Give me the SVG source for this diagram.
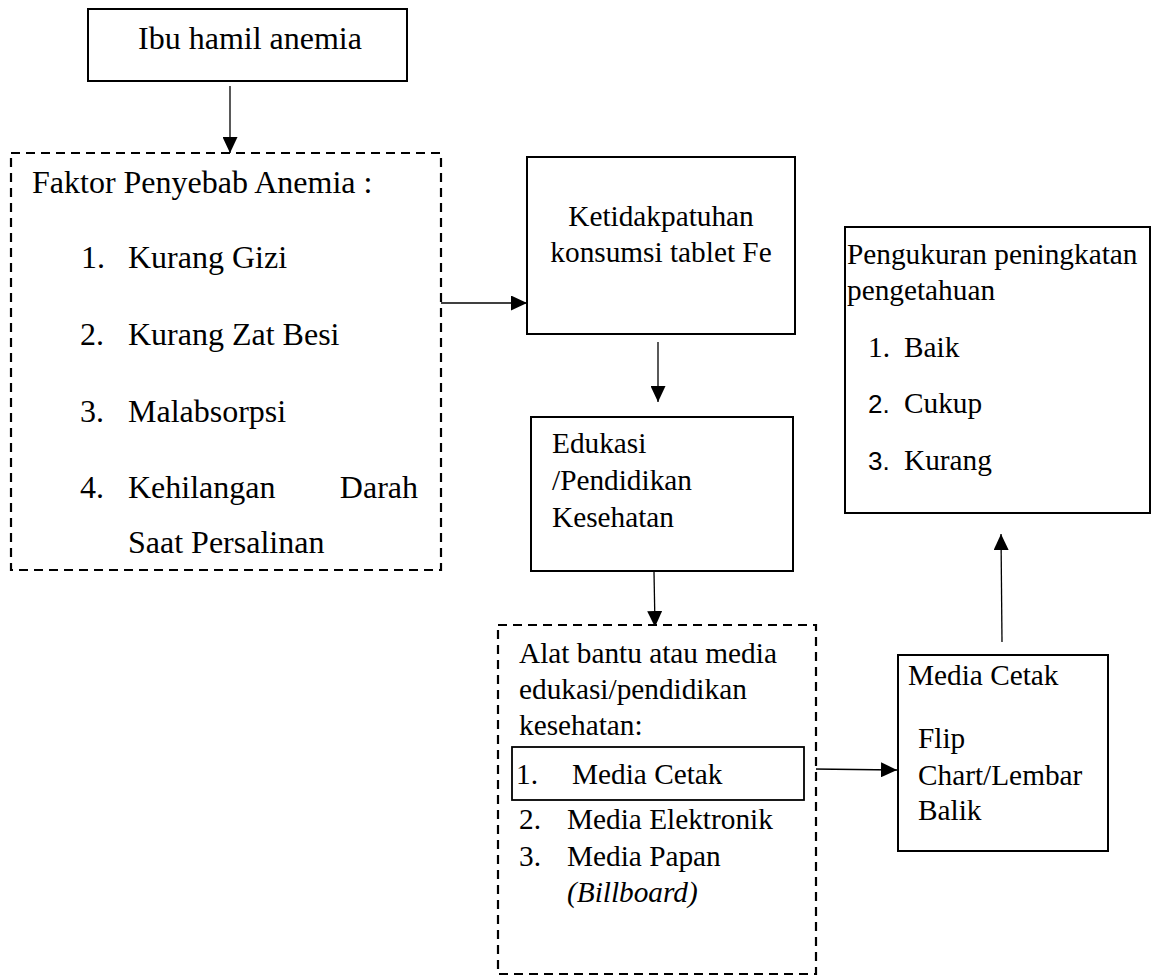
<svg xmlns="http://www.w3.org/2000/svg" width="1153" height="976" viewBox="0 0 1153 976">
<style>
  .box { fill: #fff; stroke: #000; stroke-width: 2; }
  .dash { fill: #fff; stroke: #000; stroke-width: 2.2; stroke-dasharray: 9 6; }
  .inner { fill: none; stroke: #000; stroke-width: 1.8; }
  .conn { stroke: #000; stroke-width: 1.3; fill: none; marker-end: url(#arrow); }
  .serif { font-family: 'Liberation Serif', 'DejaVu Serif', serif; fill: #000; }
  .t12 { font-size: 32px; }
  .t11 { font-size: 29.3px; }
  .sans { font-family: 'Liberation Sans', 'DejaVu Sans', sans-serif; font-size: 26px; fill: #000; }
</style>
<defs>
  <marker id="arrow" markerUnits="userSpaceOnUse" markerWidth="16" markerHeight="15" refX="16" refY="7.5" orient="auto">
    <path d="M0,0 L16,7.5 L0,15 z" fill="#000"/>
  </marker>
</defs>
<rect width="1153" height="976" fill="#fff"/>

<g id="connectors">
  <line class="conn" x1="230" y1="86" x2="230" y2="153"/>
  <line class="conn" x1="441" y1="303" x2="527" y2="303"/>
  <line class="conn" x1="658" y1="342" x2="658" y2="402"/>
  <line class="conn" x1="654" y1="572" x2="655" y2="627"/>
  <line class="conn" x1="813" y1="769" x2="897" y2="770"/>
  <line class="conn" x1="1002" y1="642" x2="1001" y2="534"/>
</g>

<g id="ibu" class="serif" font-family="Liberation Serif, serif">
  <rect class="box" x="88" y="9" width="319" height="72"/>
  <text class="t12" x="250" y="49" text-anchor="middle">Ibu hamil anemia</text>
</g>

<g id="faktor" class="serif" font-family="Liberation Serif, serif">
  <rect class="dash" x="11" y="153" width="430" height="417"/>
  <text class="t12" x="32" y="193">Faktor Penyebab Anemia :</text>
  <text class="t12" x="81" y="268">1.</text>
  <text class="t12" x="128" y="268">Kurang Gizi</text>
  <text class="t12" x="80" y="345">2.</text>
  <text class="t12" x="128" y="345">Kurang Zat Besi</text>
  <text class="t12" x="80" y="422">3.</text>
  <text class="t12" x="128" y="422">Malabsorpsi</text>
  <text class="t12" x="80" y="498">4.</text>
  <text class="t12" x="128" y="498">Kehilangan</text>
  <text class="t12" x="418" y="498" text-anchor="end">Darah</text>
  <text class="t12" x="128" y="553">Saat Persalinan</text>
</g>

<g id="ketidakpatuhan" class="serif" font-family="Liberation Serif, serif">
  <rect class="box" x="527" y="157" width="268" height="177"/>
  <text class="t11" x="661" y="226" text-anchor="middle">Ketidakpatuhan</text>
  <text class="t11" x="661" y="262" text-anchor="middle">konsumsi tablet Fe</text>
</g>

<g id="edukasi" class="serif" font-family="Liberation Serif, serif">
  <rect class="box" x="531" y="417" width="262" height="154"/>
  <text class="t11" x="552" y="453">Edukasi</text>
  <text class="t11" x="552" y="490">/Pendidikan</text>
  <text class="t11" x="552" y="527">Kesehatan</text>
</g>

<g id="alat" class="serif" font-family="Liberation Serif, serif">
  <rect class="dash" x="498" y="625" width="318" height="349"/>
  <text class="t11" x="519" y="663">Alat bantu atau media</text>
  <text class="t11" x="519" y="699">edukasi/pendidikan</text>
  <text class="t11" x="519" y="735">kesehatan:</text>
  <rect class="inner" x="512" y="747" width="292" height="53"/>
  <text class="t11" x="516" y="784">1.</text>
  <text class="t11" x="572" y="784">Media Cetak</text>
  <text class="t11" x="519" y="829">2.</text>
  <text class="t11" x="567" y="829">Media Elektronik</text>
  <text class="t11" x="519" y="866">3.</text>
  <text class="t11" x="567" y="866">Media Papan</text>
  <text class="t11" x="567" y="902" font-style="italic">(Billboard)</text>
</g>

<g id="media-cetak" class="serif" font-family="Liberation Serif, serif">
  <rect class="box" x="898" y="655" width="210" height="196"/>
  <text class="t11" x="908" y="685">Media Cetak</text>
  <text class="t11" x="918" y="748">Flip</text>
  <text class="t11" x="918" y="785">Chart/Lembar</text>
  <text class="t11" x="918" y="820">Balik</text>
</g>

<g id="pengukuran" class="serif" font-family="Liberation Serif, serif">
  <rect class="box" x="845" y="227" width="305" height="286"/>
  <text class="t11" x="847" y="264">Pengukuran peningkatan</text>
  <text class="t11" x="847" y="300">pengetahuan</text>
  <text class="t11" x="868" y="357">1.</text>
  <text class="t11" x="904" y="357">Baik</text>
  <text class="sans" x="868" y="413">2.</text>
  <text class="t11" x="904" y="413">Cukup</text>
  <text class="sans" x="868" y="470">3.</text>
  <text class="t11" x="904" y="470">Kurang</text>
</g>
</svg>
